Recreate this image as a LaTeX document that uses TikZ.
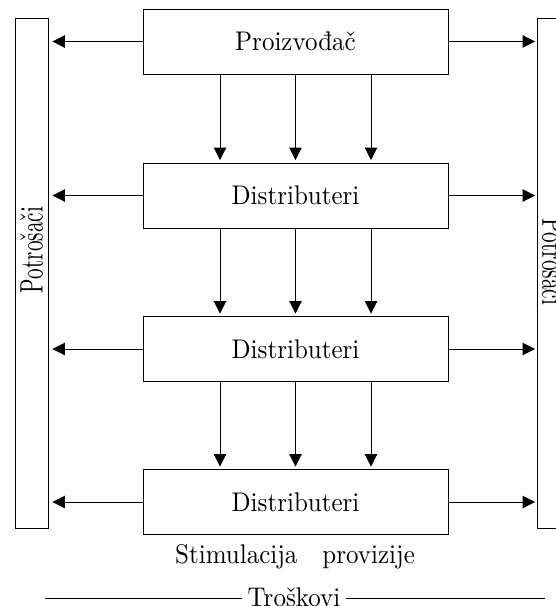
\documentclass[tikz,border=0pt]{standalone}
\usepackage{fontspec}
\setmainfont{lmroman10-regular.otf}
\usepackage{graphicx}
\usetikzlibrary{arrows.meta}
\begin{document}
\begin{tikzpicture}[x=1pt,y=-1pt,
  box/.style={draw=black,line width=0.9pt,minimum width=305pt,minimum height=65pt,inner sep=0pt,font=\fontsize{25}{30}\selectfont},
  bar/.style={draw=black,line width=0.9pt,minimum width=33pt,minimum height=510pt,inner sep=0pt},
  conn/.style={line width=0.9pt,-{Triangle[length=12.5pt,width=12.5pt]}},
  txt/.style={inner sep=0pt,font=\fontsize{25}{30}\selectfont}]
\useasboundingbox (0,0) rectangle (556,606);
\clip (0,0) rectangle (556,606);
% boxes
\node[box] (p)  at (295.5,41.5)  {\scalebox{1}[1.08]{Proizvođač}};
\node[box] (d1) at (295.5,195.5) {\scalebox{1}[1.08]{Distributeri}};
\node[box] (d2) at (295.5,349)   {\scalebox{1}[1.08]{Distributeri}};
\node[box] (d3) at (295.5,502)   {\scalebox{1}[1.08]{Distributeri}};
% bars
\node[bar] (lb) at (31.5,273) {};
\node[bar] (rb) at (553.5,273) {};
\node[txt] (lt) at (31.5,250) {\rotatebox{90}{\scalebox{0.85}[1.3]{Potrošači}}};
\node[txt] (rt) at (553.5,262) {\rotatebox{-90}{\scalebox{0.85}[1.3]{Potrošači}}};
% horizontal arrows
\foreach \n in {p,d1,d2,d3}{
  \draw[conn,shorten >=4pt] (\n.west) -- (\n.west -| lb.east);
  \draw[conn,shorten >=1.5pt] (\n.east) -- (\n.east -| rb.west);
}
% vertical arrows
\foreach \a/\b in {p/d1,d1/d2,d2/d3}{
  \foreach \dx in {-75.5,0,75.5}{
    \draw[conn,shorten >=2.5pt] ([xshift=\dx pt]\a.south) -- ([xshift=\dx pt]\b.north);
  }
}
% bottom texts
\node[txt,anchor=base west] (st) at (175,563) {\scalebox{1}[1.08]{Stimulacija\hspace{25pt}provizije}};
\node[txt,anchor=base,inner xsep=6pt] (tr) at (294,606) {\scalebox{1}[1.08]{Troškovi}};
\coordinate (tl) at (45,598);
\coordinate (trr) at (545,598);
\draw[line width=0.9pt] (tl) -- (tl -| tr.west);
\draw[line width=0.9pt] (tr.east |- trr) -- (trr);
\end{tikzpicture}
\end{document}
